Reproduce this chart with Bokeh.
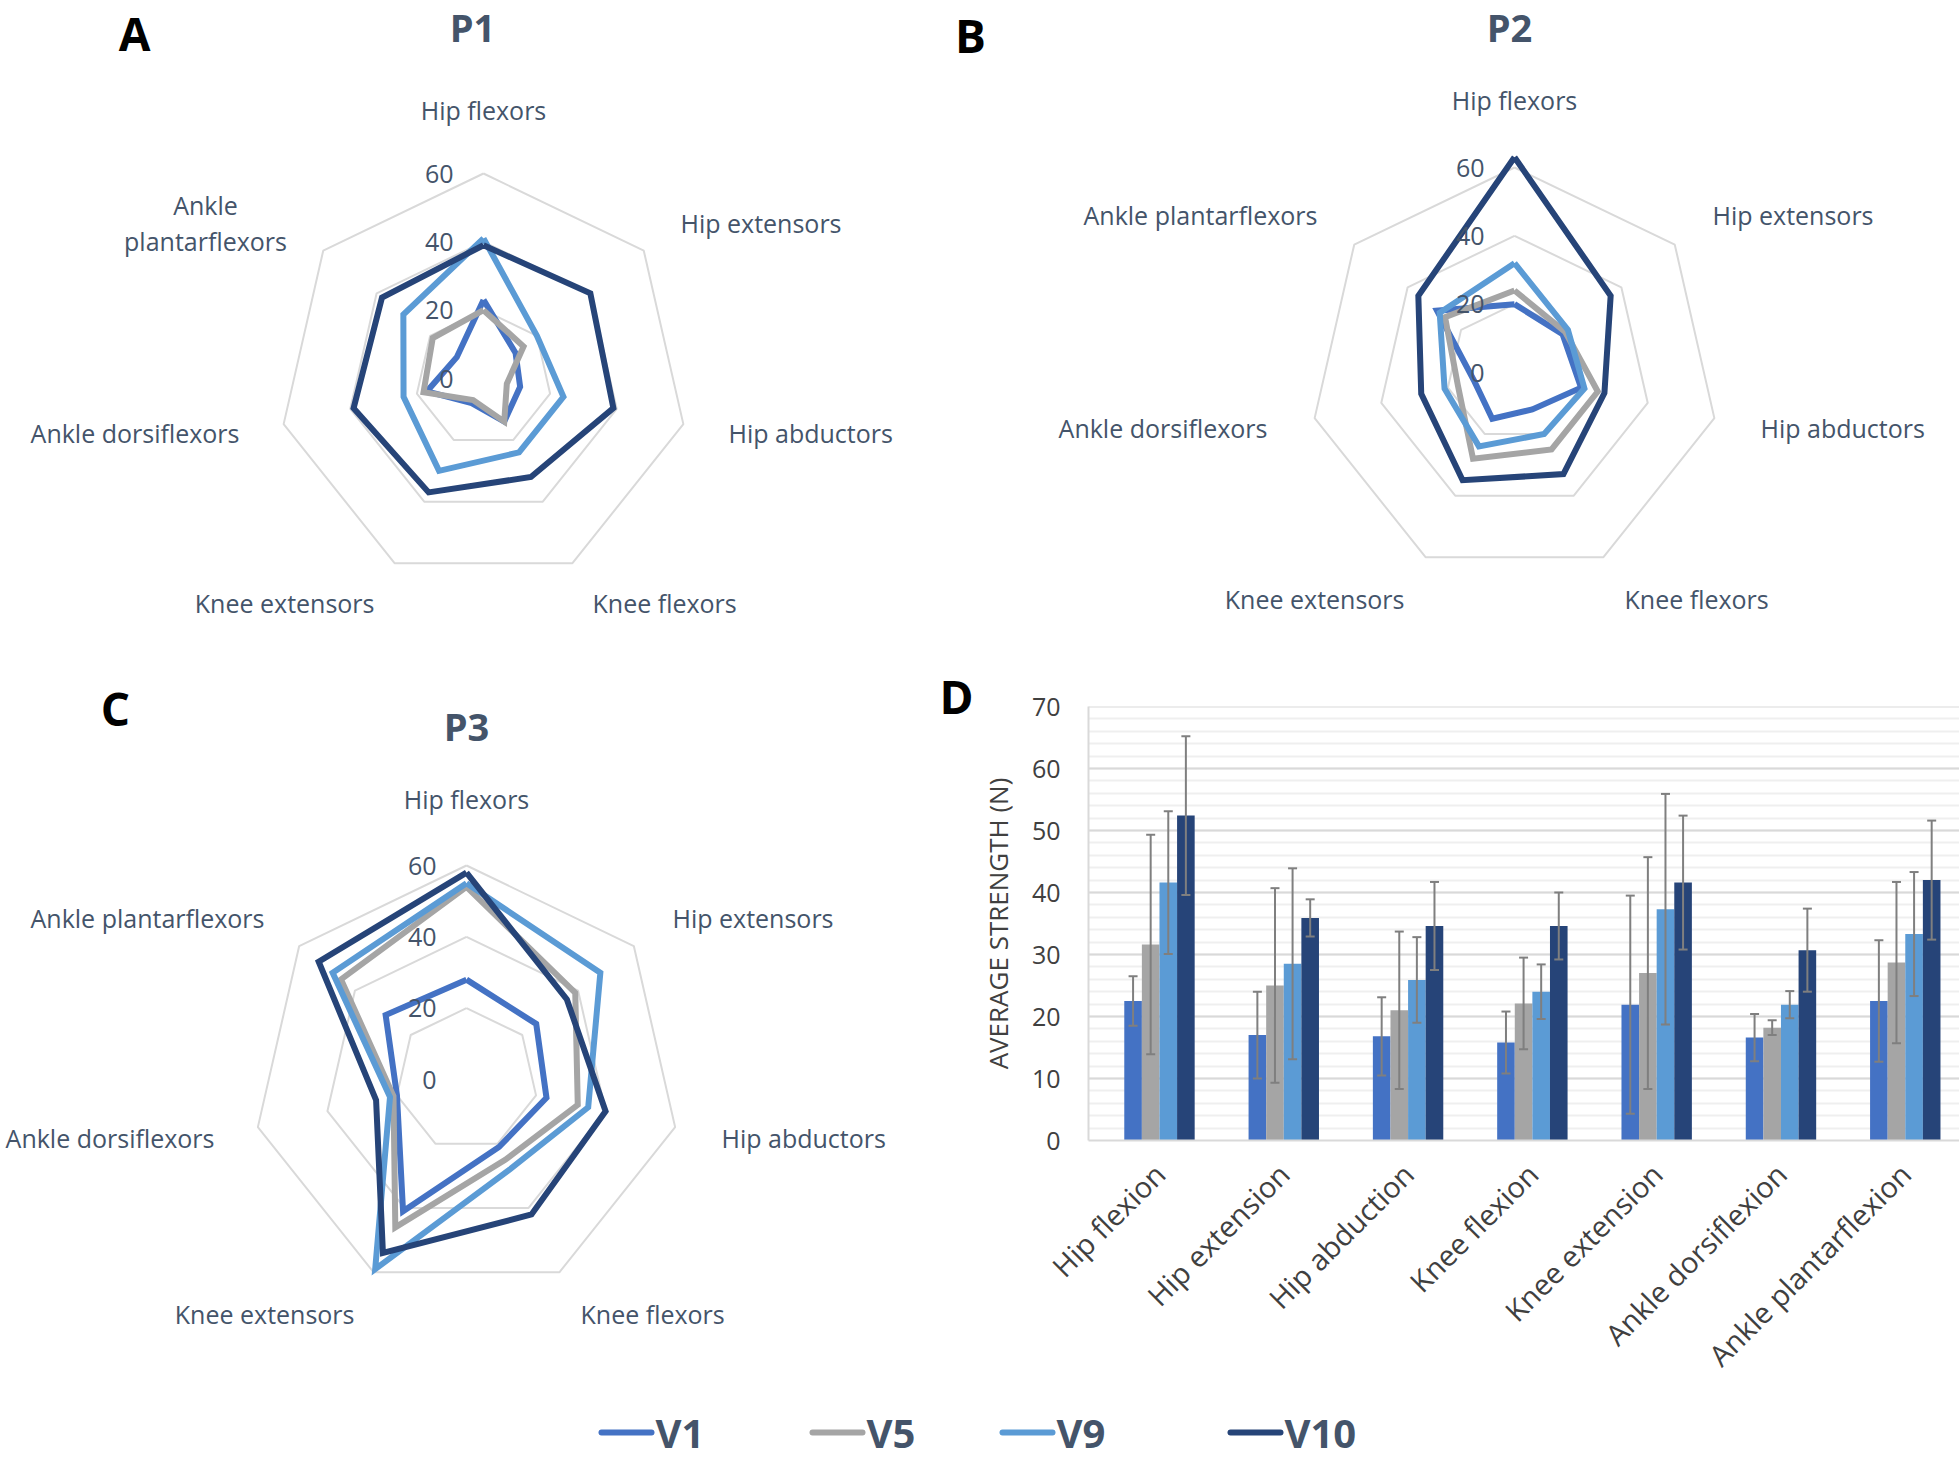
import math
from bokeh.plotting import figure
from bokeh.layouts import column, row
from bokeh.models import Range1d, ColumnDataSource, Whisker, TeeHead, FixedTicker, SingleIntervalTicker, Span
from bokeh.core.properties import value
from bokeh.embed import file_html
from bokeh.resources import INLINE

# ---------------- data ----------------
muscles = ["Hip flexors", "Hip extensors", "Hip abductors", "Knee flexors",
           "Knee extensors", "Ankle dorsiflexors", "Ankle plantarflexors"]
series = ["V1", "V5", "V9", "V10"]
colors = ["#4472C4", "#A5A5A5", "#5B9BD5", "#264478"]
ring_ticks = [0, 20, 40, 60]

# P1
p1_v1 = [23, 12, 11, 14, 8, 17, 10]
p1_v5 = [20, 15, 7, 14, 7, 18, 19]
p1_v9 = [41, 20, 24, 24, 30, 24, 30]
p1_v10 = [39, 40, 39, 32, 37, 39, 38]
# P2
p2_v1 = [20, 18, 20, 12, 15, 12, 29]
p2_v5 = [24, 19, 25, 25, 28, 17, 26]
p2_v9 = [32, 20, 21, 20, 24, 21, 28]
p2_v10 = [63, 36, 27, 33, 35, 28, 36]
# P3
p3_v1 = [28, 25, 23, 21, 41, 20, 29]
p3_v5 = [54, 39, 32, 25, 46, 21, 45]
p3_v9 = [55, 48, 35, 28, 59, 22, 48]
p3_v10 = [58, 36, 40, 42, 54, 26, 53]

movements = ["Hip flexion", "Hip extension", "Hip abduction", "Knee flexion",
             "Knee extension", "Ankle dorsiflexion", "Ankle plantarflexion"]
avg_v1 = [22.5, 17.0, 16.8, 15.8, 21.9, 16.6, 22.5]
avg_v5 = [31.6, 25.0, 21.0, 22.1, 27.0, 18.2, 28.7]
avg_v9 = [41.6, 28.5, 25.9, 24.0, 37.3, 21.9, 33.3]
avg_v10 = [52.4, 35.9, 34.6, 34.6, 41.6, 30.7, 42.0]
sd_v1 = [4.0, 7.0, 6.3, 5.0, 17.6, 3.8, 9.8]
sd_v5 = [17.7, 15.7, 12.7, 7.4, 18.7, 1.2, 13.0]
sd_v9 = [11.5, 15.4, 6.9, 4.4, 18.6, 2.2, 10.0]
sd_v10 = [12.8, 3.0, 7.1, 5.4, 10.8, 6.7, 9.6]

# ---------------- styles ----------------
FONT = "Open Sans"
LBL_COLOR = "#44546A"
RING_COLOR = "#D9D9D9"


def base_fig(x0, x1, y0, y1):
    p = figure(width=x1 - x0, height=y1 - y0,
               x_range=Range1d(x0, x1), y_range=Range1d(y1, y0),
               output_backend="svg", toolbar_location=None,
               x_axis_location=None, y_axis_location=None,
               min_border=0, outline_line_color=None, frame_align=False,
               background_fill_color="white", border_fill_color="white")
    p.xgrid.visible = False
    p.ygrid.visible = False
    return p


def poly(cx, cy, R, vals, vmax=60):
    xs, ys = [], []
    n = len(vals)
    for k in range(n + 1):
        v = vals[k % n]
        a = 2 * math.pi * (k % n) / n
        r = R * v / vmax
        xs.append(cx + r * math.sin(a))
        ys.append(cy - r * math.cos(a))
    return xs, ys


def radar(frame, center, R, data, labels, title, title_xy, letters, letter_xy):
    p = base_fig(*frame)
    cx, cy = center
    for t in ring_ticks[1:]:
        xs, ys = poly(cx, cy, R, [t] * 7)
        p.line(xs, ys, line_color=RING_COLOR, line_width=2)
    for vals, c in zip(data, colors):
        xs, ys = poly(cx, cy, R, vals)
        p.line(xs, ys, line_color=c, line_width=6, line_join="miter")
    p.text(x=[cx - 30] * len(ring_ticks), y=[cy - R * t / 60 for t in ring_ticks],
           text=[str(t) for t in ring_ticks], text_align="right", text_baseline="middle",
           text_font=value(FONT), text_font_size="25px", text_color=LBL_COLOR)
    for align in ("left", "right", "center"):
        items = [l for l in labels if l[3] == align]
        if not items:
            continue
        p.text(x=[i[1] for i in items], y=[i[2] for i in items], text=[i[0] for i in items],
               text_align=align, text_baseline="middle", text_font=value(FONT),
               text_font_size="25px", text_color=LBL_COLOR)
    p.text(x=[title_xy[0]], y=[title_xy[1]], text=[title], text_align="center",
           text_baseline="middle", text_font=value(FONT), text_font_size="38px",
           text_font_style="bold", text_color=LBL_COLOR)
    p.text(x=[xy[0] for xy in letter_xy], y=[xy[1] for xy in letter_xy], text=letters,
           text_align="center", text_baseline="middle", text_font=value(FONT),
           text_font_size="46px", text_font_style="bold", text_color="black")
    return p


labA = [(muscles[0], 483, 109, "center"), (muscles[1], 680, 222, "left"),
        (muscles[2], 728, 432, "left"), (muscles[3], 592, 602, "left"),
        (muscles[4], 374, 602, "right"), (muscles[5], 239, 432, "right"),
        ("Ankle", 205, 204, "center"), ("plantarflexors", 205, 240, "center")]
labB = [(muscles[0], 1514, 99, "center"), (muscles[1], 1712, 214, "left"),
        (muscles[2], 1760, 427, "left"), (muscles[3], 1624, 598, "left"),
        (muscles[4], 1404, 598, "right"), (muscles[5], 1267, 427, "right"),
        (muscles[6], 1317, 214, "right")]
labC = [(muscles[0], 466, 798, "center"), (muscles[1], 672, 917, "left"),
        (muscles[2], 721, 1137, "left"), (muscles[3], 580, 1313, "left"),
        (muscles[4], 354, 1313, "right"), (muscles[5], 214, 1137, "right"),
        (muscles[6], 264, 917, "right")]

SPLIT = 974  # boundary between panel C and panel D figures

pA = radar((0, 948, 0, 658), (483, 378), 205, [p1_v1, p1_v5, p1_v9, p1_v10], labA,
           "P1", (472, 26), ["A"], [(134, 32)])
pB = radar((948, 1959, 0, 658), (1514, 372), 205, [p2_v1, p2_v5, p2_v9, p2_v10], labB,
           "P2", (1509, 26), ["B"], [(970, 34)])
# the panel letter "D" sits left of the bar chart's y axis, so it is drawn here
pC = radar((0, SPLIT, 658, 1400), (466, 1079), 214, [p3_v1, p3_v5, p3_v9, p3_v10], labC,
           "P3", (466, 725), ["C", "D"], [(115, 707), (SPLIT - 18, 695)])

# ---------------- bar chart D ----------------
px_per_cat = 124.3
frame_left = 1088
border_left = frame_left - SPLIT
frame_w = 1959 - frame_left
x_start = -0.571
pD = figure(width=1959 - SPLIT, height=742,
            x_range=Range1d(x_start, x_start + frame_w / px_per_cat), y_range=Range1d(0, 70),
            output_backend="svg", toolbar_location=None, frame_align=False,
            min_border_left=border_left, min_border_right=0, min_border_top=48, min_border_bottom=260,
            outline_line_color=None, background_fill_color="white", border_fill_color="white")

yt = SingleIntervalTicker(interval=10, num_minor_ticks=5)
pD.yaxis.ticker = yt
pD.ygrid.ticker = yt
pD.ygrid.grid_line_color = "#D9D9D9"
pD.ygrid.grid_line_width = 2
pD.ygrid.minor_grid_line_color = "#EFEFEF"
pD.ygrid.minor_grid_line_width = 2
pD.xgrid.visible = False
pD.add_layout(Span(location=70, dimension="width", line_color="#D9D9D9", line_width=2))

bw = 0.1416
offsets = [-1.5 * bw, -0.5 * bw, 0.5 * bw, 1.5 * bw]
avgs = [avg_v1, avg_v5, avg_v9, avg_v10]
sds = [sd_v1, sd_v5, sd_v9, sd_v10]
for j in range(4):
    xs = [i + offsets[j] for i in range(len(movements))]
    src = ColumnDataSource(dict(x=xs, top=avgs[j]))
    pD.vbar(x="x", top="top", width=bw, source=src, fill_color=colors[j], line_color=None)
for j in range(4):
    xs = [i + offsets[j] for i in range(len(movements))]
    src = ColumnDataSource(dict(x=xs,
                                lower=[a - s for a, s in zip(avgs[j], sds[j])],
                                upper=[a + s for a, s in zip(avgs[j], sds[j])]))
    w = Whisker(source=src, base="x", lower="lower", upper="upper", level="overlay",
                line_color="#7F7F7F", line_width=2,
                upper_head=TeeHead(size=9, line_color="#7F7F7F", line_width=2),
                lower_head=TeeHead(size=9, line_color="#7F7F7F", line_width=2))
    pD.add_layout(w)

ax = pD.xaxis[0]
ax.ticker = FixedTicker(ticks=list(range(len(movements))))
ax.major_label_overrides = {i: m for i, m in enumerate(movements)}
ax.major_label_orientation = math.pi / 4
ax.major_label_text_font = FONT
ax.major_label_text_font_size = "29px"
ax.major_label_text_color = "#404040"
ax.major_label_standoff = 28
ax.major_tick_line_color = None
ax.minor_tick_line_color = None
ax.major_tick_out = 0
ax.major_tick_in = 0
ax.axis_line_color = "#D9D9D9"
ax.axis_line_width = 2

ay = pD.yaxis[0]
ay.major_label_text_font = FONT
ay.major_label_text_font_size = "25px"
ay.major_label_text_color = "#404040"
ay.major_label_standoff = 28
ay.major_tick_line_color = None
ay.minor_tick_line_color = None
ay.major_tick_out = 0
ay.major_tick_in = 0
ay.minor_tick_out = 0
ay.axis_line_color = "#D9D9D9"
ay.axis_line_width = 2
ay.axis_label = "AVERAGE STRENGTH (N)"
ay.axis_label_text_font = FONT
ay.axis_label_text_font_size = "26px"
ay.axis_label_text_font_style = "normal"
ay.axis_label_text_color = "#404040"
ay.axis_label_standoff = 13

# ---------------- legend ----------------
pL = base_fig(0, 1959, 1400, 1460)
leg_x = [601, 812, 1002, 1230]
leg_y = 1432
pL.segment(x0=leg_x, y0=[leg_y] * 4, x1=[x + 50 for x in leg_x], y1=[leg_y] * 4,
           line_color=colors, line_width=6, line_cap="round")
pL.text(x=[x + 54 for x in leg_x], y=[leg_y] * 4, text=series, text_align="left",
        text_baseline="middle", text_font=value(FONT), text_font_size="40px",
        text_font_style="bold", text_color=LBL_COLOR)

layout = column(row(pA, pB), row(pC, pD), pL)
open("out.html", "w").write(file_html(layout, INLINE))
